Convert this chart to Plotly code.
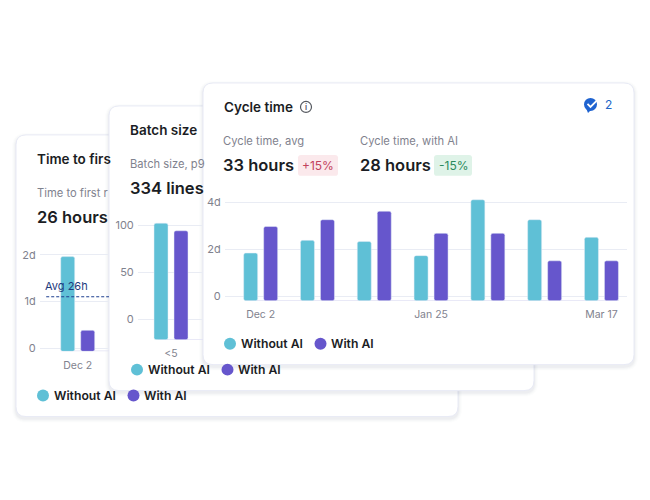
import plotly.graph_objects as go

# the page has an 8px body margin, so everything is drawn inside what is left
W = 642
H = 492
PAGE_MARGIN = 8
# vertical fit against the reference, measured from the first renders
Y_FIT = 1.007

TEAL = '#5fc0d6'
PURPLE = '#6656cc'
DARK = '#1b1d24'
GREY = '#7f828e'
GRID = '#e9ecf4'
BASELINE = '#e2e2f4'

# cycle time card, values in days
cycle_dates = ['Dec 2', 'Dec 19', 'Jan 7', 'Jan 25', 'Feb 11', 'Feb 28', 'Mar 17']
cycle_without = [1.83, 2.37, 2.32, 1.72, 4.1, 3.25, 2.5]
cycle_with = [2.96, 3.25, 3.61, 2.67, 2.67, 1.5, 1.5]
cycle_ticks = [0, 2, 4]
cycle_tick_text = ['0', '2d', '4d']
cycle_x_ticks = ['Dec 2', 'Jan 25', 'Mar 17']

# batch size card, only the first group can be seen
batch_sizes = ['<5']
batch_without = [102.5]
batch_with = [94.4]
batch_ticks = [0, 50, 100]
batch_tick_text = ['0', '50', '100']

# time to first review card, only the first group can be seen
review_dates = ['Dec 2']
review_without = [1.96]
review_with = [0.38]
review_avg = 1.1
review_ticks = [0, 1, 2]
review_tick_text = ['0', '1d', '2d']


def px(x):
    return (x - PAGE_MARGIN) / W


def py(y):
    return 1 - (y * Y_FIT - PAGE_MARGIN) / H


def rounded_path(x0, y0, x1, y1, r):
    a, b, c, d = px(x0), px(x1), py(y0), py(y1)
    rx, ry = r / W, r / H
    return (f'M{a + rx},{c} L{b - rx},{c} Q{b},{c} {b},{c - ry} '
            f'L{b},{d + ry} Q{b},{d} {b - rx},{d} L{a + rx},{d} '
            f'Q{a},{d} {a},{d + ry} L{a},{c - ry} Q{a},{c} {a + rx},{c} Z')


def point_path(points, close=False):
    parts = [f'{"M" if i == 0 else "L"}{px(x)},{py(y)}' for i, (x, y) in enumerate(points)]
    return ' '.join(parts) + (' Z' if close else '')


shapes = []
annotations = []


def add_card(x0, y0, x1, y1):
    # soft shadow made of a few faint outlines
    for grow, alpha in [(4, 0.012), (3, 0.016), (2, 0.022), (1, 0.03)]:
        shapes.append(dict(type='path', xref='paper', yref='paper',
                           path=rounded_path(x0 - grow, y0 - grow + 2, x1 + grow, y1 + grow + 2, 10 + grow),
                           fillcolor=f'rgba(40,45,90,{alpha})', line_width=0, layer='below'))
    shapes.append(dict(type='path', xref='paper', yref='paper',
                       path=rounded_path(x0, y0, x1, y1, 10),
                       fillcolor='white', line=dict(color='#e8eaf5', width=1), layer='below'))


def add_text(x, y, text, size=12, color=DARK, weight=400, anchor='left'):
    annotations.append(dict(x=px(x - 1 if anchor == 'left' else x), y=py(y), xref='paper', yref='paper',
                            text=text, showarrow=False, xanchor=anchor, yanchor='middle', borderpad=0,
                            font=dict(family='Inter', size=size, color=color, weight=weight)))


def add_badge(x0, x1, y0, y1, text, fill, color):
    shapes.append(dict(type='path', xref='paper', yref='paper', path=rounded_path(x0, y0, x1, y1, 3),
                       fillcolor=fill, line_width=0, layer='below'))
    add_text((x0 + x1) / 2, (y0 + y1) / 2, text, size=12, color=color, anchor='center')


def add_legend(x, y):
    for cx, color, label, tx in [(x, TEAL, 'Without AI', x + 10.5), (x + 90.5, PURPLE, 'With AI', x + 101)]:
        shapes.append(dict(type='circle', xref='paper', yref='paper',
                           x0=px(cx - 6), x1=px(cx + 6), y0=py(y + 6), y1=py(y - 6),
                           fillcolor=color, line_width=0, layer='below'))
        add_text(tx, y, label, size=12.2, weight=600)


add_card(16, 135, 458, 417)
add_card(109, 106, 534, 391)
add_card(203, 83, 634, 365)

fig = go.Figure()


def add_chart(n, cats, without, with_ai, floor, x_dom, y_dom, x_range, y_range, ticks, tick_text, x_ticks):
    suffix = '' if n == 1 else str(n)
    # bars stand on a floor a little under the zero tick, as in the original
    fig.add_trace(go.Bar(x=cats, y=[v - floor for v in without], base=floor, name='Without AI',
                         marker=dict(color=TEAL, cornerradius=2), showlegend=False,
                         xaxis='x' + suffix, yaxis='y' + suffix, offsetgroup='a'))
    fig.add_trace(go.Bar(x=cats, y=[v - floor for v in with_ai], base=floor, name='With AI',
                         marker=dict(color=PURPLE, cornerradius=2), showlegend=False,
                         xaxis='x' + suffix, yaxis='y' + suffix, offsetgroup='b'))
    fig.update_layout({
        'xaxis' + suffix: dict(domain=[px(x_dom[0]), px(x_dom[1])], range=x_range, type='category',
                               categoryorder='array', categoryarray=cats, anchor='y' + suffix,
                               tickmode='array', tickvals=x_ticks, ticktext=x_ticks,
                               showgrid=False, zeroline=False, showline=False,
                               ticks='outside', ticklen=4, tickcolor='rgba(0,0,0,0)',
                               tickfont=dict(family='Inter', size=10.5, color=GREY)),
        'yaxis' + suffix: dict(domain=[py(y_dom[1]), py(y_dom[0])], range=y_range, anchor='x' + suffix,
                               tickmode='array', tickvals=ticks, ticktext=tick_text,
                               showgrid=True, gridcolor=GRID, gridwidth=1, zeroline=False, showline=False,
                               ticks='outside', ticklen=1, tickcolor='rgba(0,0,0,0)',
                               tickfont=dict(family='Inter', size=11, color=GREY)),
    })
    shapes.append(dict(type='line', xref='x' + suffix + ' domain', yref='y' + suffix,
                       x0=0.05 if n == 3 else 0.3, x1=0.98 if n == 3 else 1, y0=floor, y1=floor,
                       line=dict(color=BASELINE, width=1.5), layer='below'))


# back card
add_chart(1, review_dates, review_without, review_with, -0.07, (40, 109), (245, 351.7),
          [-0.664, 0.551], [-0.07, 2.214], review_ticks, review_tick_text, review_dates)
add_text(37, 159, 'Time to firs', size=13.5, weight=600)
add_text(37, 193, 'Time to first r', size=11.2, color=GREY)
add_text(37, 217, '26 hours', size=16.5, weight=600)
add_text(45, 286, 'Avg 26h', size=11, color='#1d3a7c')
shapes.append(dict(type='line', xref='x domain', yref='y', x0=0.09, x1=1, y0=review_avg, y1=review_avg,
                   line=dict(color='#1d3f8f', width=1, dash='3px,2px'), layer='above'))
add_legend(43, 396)

# middle card
add_chart(2, batch_sizes, batch_without, batch_with, -21.6, (138, 203), (215, 340),
          [-0.581, 0.563], [-21.6, 111.4], batch_ticks, batch_tick_text, batch_sizes)
add_text(130, 130, 'Batch size', size=13.5, weight=600)
add_text(130, 164, 'Batch size, p9', size=11.2, color=GREY)
add_text(130, 188, '334 lines', size=16.5, weight=600)
add_legend(137, 370)

# front card
add_chart(3, cycle_dates, cycle_without, cycle_with, -0.2, (225, 627), (195, 301),
          [-0.628, 6.45], [-0.2, 4.31], cycle_ticks, cycle_tick_text, cycle_x_ticks)
add_text(224, 107, 'Cycle time', size=13.5, weight=600)
shapes.append(dict(type='circle', xref='paper', yref='paper', x0=px(300.5), x1=px(311.5), y0=py(112.5), y1=py(101.5),
                   line=dict(color='#55585f', width=1.2), fillcolor='white', layer='below'))
add_text(306, 107.5, 'i', size=8, color='#55585f', weight=600, anchor='center')
add_text(223, 141, 'Cycle time, avg', size=11.2, color=GREY)
add_text(223, 165, '33 hours', size=16.5, weight=600)
add_badge(298, 338, 155, 176, '+15%', '#fbe9ec', '#c2415d')
add_text(360, 141, 'Cycle time, with AI', size=11.2, color=GREY)
add_text(360, 165, '28 hours', size=16.5, weight=600)
add_badge(434, 472, 155, 176, '-15%', '#dff3e8', '#2a8a5c')
add_text(605, 105, '2', size=12, color='#2166c8')
# speech bubble icon with a white tick across it
shapes.append(dict(type='circle', xref='paper', yref='paper', x0=px(584), x1=px(597), y0=py(111), y1=py(98),
                   fillcolor='#1f63d0', line_width=0, layer='below'))
shapes.append(dict(type='path', xref='paper', yref='paper', fillcolor='#1f63d0', line_width=0, layer='below',
                   path=point_path([(586, 108), (591, 110), (588, 113)], close=True)))
shapes.append(dict(type='path', xref='paper', yref='paper', line=dict(color='white', width=1.8), layer='below',
                   path=point_path([(587.5, 104), (590.5, 107), (599, 98.5)])))
add_legend(230, 344)

fig.update_layout(
    width=W, height=H,
    margin=dict(l=0, r=0, t=0, b=0),
    paper_bgcolor='white',
    plot_bgcolor='rgba(0,0,0,0)',
    barmode='group',
    bargap=0.296,
    bargroupgap=0.3,
    shapes=shapes,
    annotations=annotations,
)

fig.write_html("out.html")
